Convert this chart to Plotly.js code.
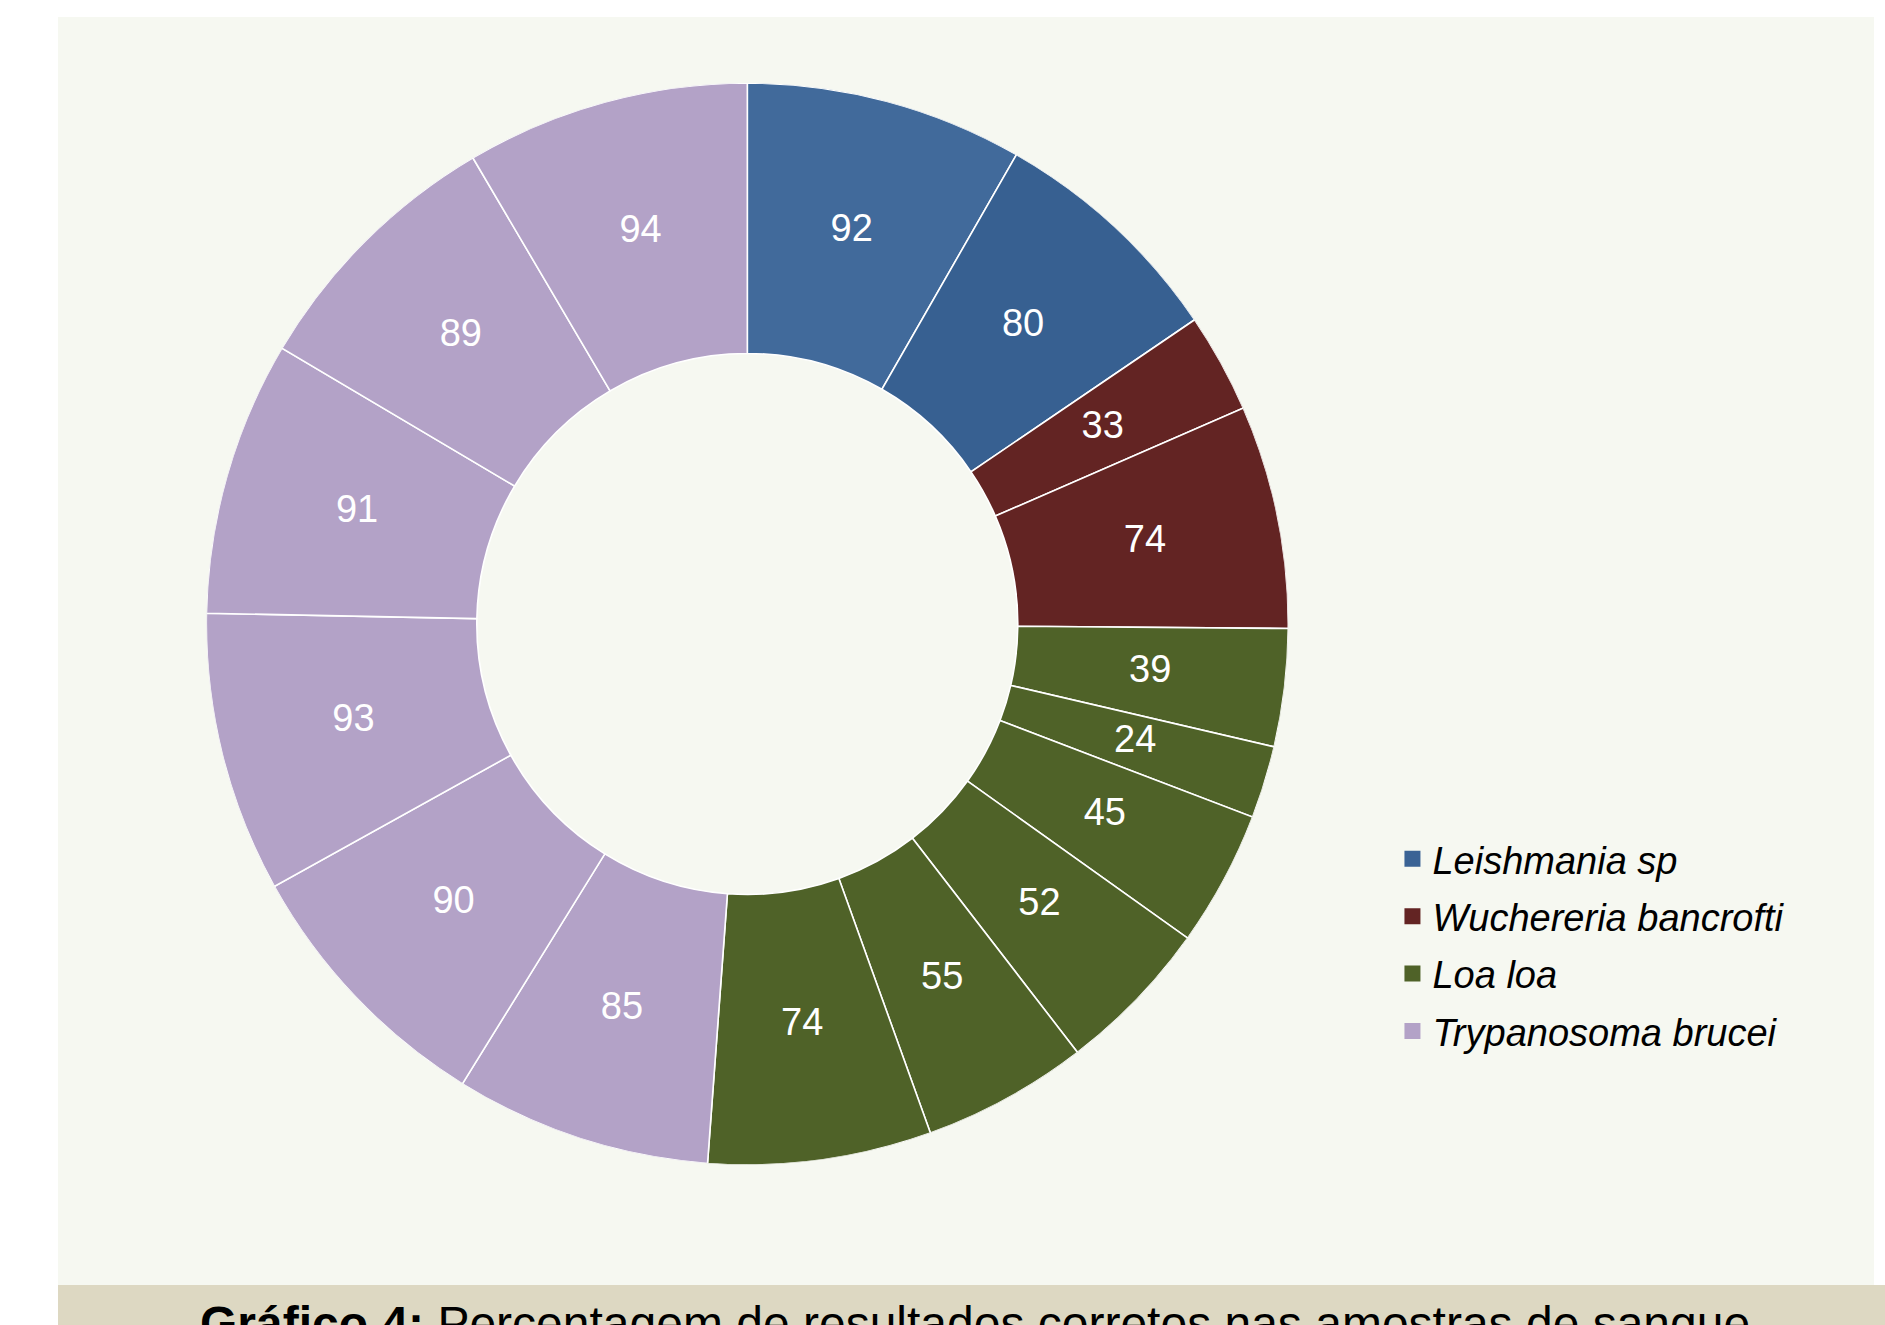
<!DOCTYPE html>
<html>
<head>
<meta charset="utf-8">
<script src="https://cdn.plot.ly/plotly-3.0.1.min.js"></script>
<style>
  html, body { margin: 0; padding: 0; background: #ffffff; }
  #chart { width: 1885px; height: 1325px; }
</style>
</head>
<body>
<div id="chart"></div>
<script>
// ---- Data ----
const species = ['Leishmania sp', 'Wuchereria bancrofti', 'Loa loa', 'Trypanosoma brucei'];
const speciesColors = ['#3A6395', '#632423', '#4F6228', '#B3A2C7'];
const sliceSpecies = [0, 0, 1, 1, 2, 2, 2, 2, 2, 2, 3, 3, 3, 3, 3, 3];
const sliceValues = [92, 80, 33, 74, 39, 24, 45, 52, 55, 74, 85, 90, 93, 91, 89, 94];
const sliceColors = ['#416A9B', '#376091', '#632423', '#632423',
  '#4F6228', '#4F6228', '#4F6228', '#4F6228', '#4F6228', '#4F6228',
  '#B3A2C7', '#B3A2C7', '#B3A2C7', '#B3A2C7', '#B3A2C7', '#B3A2C7'];
const captionBold = 'Gráfico 4:';
const captionText = ' Percentagem de resultados corretos nas amostras de sangue';

// ---- Donut geometry (fractions of the polar radius) ----
const donutDomain = { x: [0.1091, 0.6838], y: [0.1208, 0.9374] };
const holeFraction = 0.5;

// ---- Derived from the data: each segment's angular span and centre ----
const total = sliceValues.reduce((a, b) => a + b, 0);
let cum = 0;
const sliceWidth = sliceValues.map(v => v / total * 360);
const sliceTheta = sliceValues.map(v => { const t = (cum + v / 2) / total * 360; cum += v; return t; });

// ---- Traces ----
const ring = {
  type: 'barpolar',
  theta: sliceTheta,
  width: sliceWidth,
  r: sliceValues.map(() => 1 - holeFraction),
  base: sliceValues.map(() => holeFraction),
  marker: { color: sliceColors, line: { color: '#ffffff', width: 1.6 } },
  text: sliceValues.map((v, i) => species[sliceSpecies[i]] + ': ' + v),
  hoverinfo: 'text',
  showlegend: false,
  subplot: 'polar'
};

const valueLabels = {
  type: 'scatterpolar',
  mode: 'text',
  r: sliceValues.map(() => (1 + holeFraction) / 2),
  theta: sliceTheta,
  text: sliceValues.map(String),
  textposition: 'middle center',
  textfont: { family: 'Liberation Sans, Arial, sans-serif', size: 38, color: '#ffffff' },
  cliponaxis: false,
  showlegend: false,
  hoverinfo: 'skip',
  subplot: 'polar'
};

const legendTraces = species.map((name, i) => ({
  type: 'scatter',
  mode: 'markers',
  x: [null],
  y: [null],
  name: name,
  legendgroup: 'g' + i,
  marker: { symbol: 'square', size: 16, color: speciesColors[i] },
  showlegend: true,
  hoverinfo: 'skip'
}));

const layout = {
  width: 1885,
  height: 1325,
  margin: { l: 0, r: 0, t: 0, b: 0 },
  paper_bgcolor: '#ffffff',
  plot_bgcolor: 'rgba(0,0,0,0)',
  xaxis: { visible: false, domain: [0.99, 1] },
  yaxis: { visible: false, domain: [0.99, 1] },
  polar: {
    domain: donutDomain,
    bgcolor: 'rgba(0,0,0,0)',
    hole: 0,
    radialaxis: { visible: false, range: [0, 1], showgrid: false, showline: false, ticks: '' },
    angularaxis: { visible: false, rotation: 90, direction: 'clockwise', showgrid: false, showline: false, ticks: '' }
  },
  showlegend: true,
  legend: {
    x: 0.7387, xanchor: 'left',
    y: 0.3754, yanchor: 'top',
    bgcolor: 'rgba(0,0,0,0)',
    font: { family: 'Liberation Sans, Arial, sans-serif', size: 38, color: '#000000', style: 'italic' },
    tracegroupgap: 5,
    itemclick: false
  },
  shapes: [
    { type: 'rect', xref: 'paper', yref: 'paper', layer: 'below',
      x0: 58 / 1885, x1: 1874 / 1885, y0: (1325 - 1285) / 1325, y1: (1325 - 17) / 1325,
      fillcolor: '#F6F8F1', line: { width: 0 } },
    { type: 'rect', xref: 'paper', yref: 'paper', layer: 'below',
      x0: 58 / 1885, x1: 1, y0: 0, y1: (1325 - 1285) / 1325,
      fillcolor: '#DDD8C2', line: { width: 0 } }
  ],
  annotations: [
    { xref: 'paper', yref: 'paper', x: 975 / 1885, y: (1325 - 1295) / 1325,
      xanchor: 'center', yanchor: 'top', showarrow: false,
      text: '<b>' + captionBold + '</b>' + captionText,
      font: { family: 'Liberation Sans, Arial, sans-serif', size: 48, color: '#000000' } }
  ]
};

Plotly.newPlot('chart', [ring, valueLabels].concat(legendTraces), layout, { displayModeBar: false, staticPlot: true });
</script>
</body>
</html>
